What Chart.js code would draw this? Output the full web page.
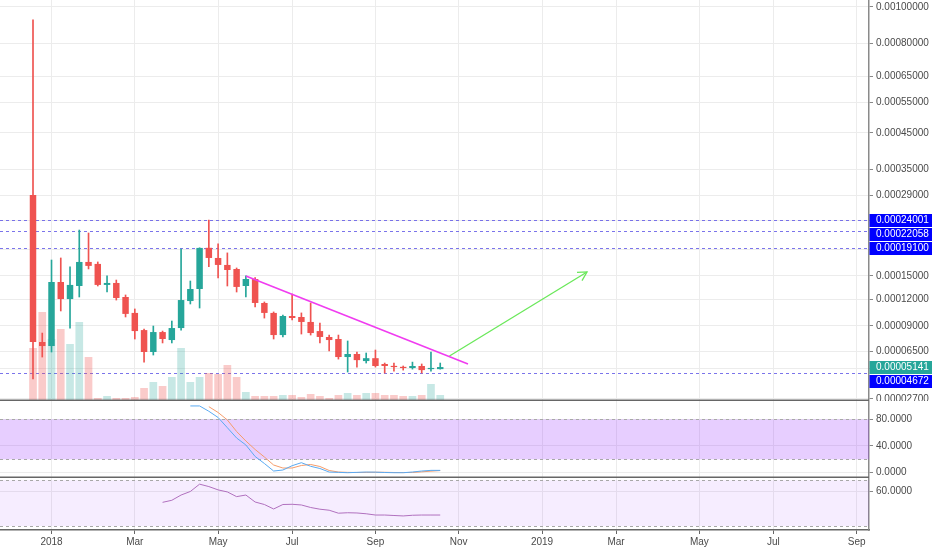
<!DOCTYPE html>
<html><head><meta charset="utf-8">
<script src="https://cdn.jsdelivr.net/npm/chart.js@4.4.1/dist/chart.umd.min.js"></script>
<style>
html,body{margin:0;padding:0;background:#fff;}
#wrap{position:relative;width:932px;height:550px;overflow:hidden;background:#fff;}
canvas{position:absolute;left:0;}
</style></head><body>
<div id="wrap">
<canvas id="main" width="932" height="401" style="top:0px"></canvas>
<canvas id="stoch" width="932" height="77" style="top:401px"></canvas>
<canvas id="rsi" width="932" height="72" style="top:478px"></canvas>
</div>
<script>
// ---------------- DATA ----------------
const WEEK_DATES = ['2017-12-18','2017-12-25','2018-01-01','2018-01-08','2018-01-15','2018-01-22','2018-01-29',
 '2018-02-05','2018-02-12','2018-02-19','2018-02-26','2018-03-05','2018-03-12','2018-03-19','2018-03-26',
 '2018-04-02','2018-04-09','2018-04-16','2018-04-23','2018-04-30','2018-05-07','2018-05-14','2018-05-21',
 '2018-05-28','2018-06-04','2018-06-11','2018-06-18','2018-06-25','2018-07-02','2018-07-09','2018-07-16',
 '2018-07-23','2018-07-30','2018-08-06','2018-08-13','2018-08-20','2018-08-27','2018-09-03','2018-09-10',
 '2018-09-17','2018-09-24','2018-10-01','2018-10-08','2018-10-15','2018-10-22'];

const OPEN  = [0.0002905,0.0000738,0.0000700,0.0001419,0.0001202,0.0001366,0.0001701,0.0001672,0.0001380,0.0001406,
               0.0001227,0.0001040,0.0000856,0.0000645,0.0000836,0.0000757,0.0000877,0.0001178,0.0001327,0.0001920,
               0.0001761,0.0001657,0.0001598,0.0001366,0.0001459,0.0001155,0.0001040,0.0000806,0.0001006,0.0000995,
               0.0000941,0.0000846,0.0000787,0.0000767,0.0000600,0.0000627,0.0000565,0.0000590,0.0000540,0.0000523,
               0.0000514,0.0000506,0.0000523,0.0000497,0.0000497];
const HIGH  = [0.0009240,0.0000826,0.0001730,0.0001761,0.0001628,0.0002220,0.0002168,0.0001701,0.0001501,0.0001445,
               0.0001252,0.0001085,0.0000866,0.0000898,0.0000846,0.0000951,0.0001901,0.0001432,0.0001920,0.0002400,
               0.0001983,0.0001839,0.0001613,0.0001501,0.0001480,0.0001167,0.0001051,0.0001017,0.0001264,0.0001040,
               0.0001155,0.0000930,0.0000806,0.0000806,0.0000748,0.0000645,0.0000636,0.0000663,0.0000548,0.0000548,
               0.0000523,0.0000556,0.0000540,0.0000645,0.0000548];
const LOW   = [0.0000418,0.0000600,0.0000645,0.0001062,0.0000877,0.0001227,0.0001599,0.0001366,0.0001289,0.0001190,
               0.0000995,0.0000767,0.0000556,0.0000618,0.0000729,0.0000729,0.0000856,0.0001143,0.0001096,0.0001630,
               0.0001473,0.0001366,0.0001289,0.0001227,0.0001108,0.0000983,0.0000767,0.0000787,0.0000962,0.0000816,
               0.0000806,0.0000729,0.0000654,0.0000582,0.0000473,0.0000514,0.0000548,0.0000514,0.0000465,0.0000481,
               0.0000489,0.0000497,0.0000465,0.0000481,0.0000497];
const CLOSE = [0.0000738,0.0000700,0.0001419,0.0001202,0.0001380,0.0001701,0.0001643,0.0001380,0.0001406,0.0001215,
               0.0001029,0.0000846,0.0000645,0.0000836,0.0000767,0.0000877,0.0001190,0.0001327,0.0001918,0.0001761,
               0.0001657,0.0001584,0.0001354,0.0001459,0.0001155,0.0001040,0.0000806,0.0001006,0.0000984,0.0000941,
               0.0000826,0.0000787,0.0000757,0.0000600,0.0000627,0.0000573,0.0000590,0.0000523,0.0000523,0.0000514,
               0.0000506,0.0000523,0.0000489,0.0000506,0.00005141];
const VOLUME = [53,89,62,72,57,79,44,3,5,3,3,4,13,19,15,24,53,19,24,28,27,36,24,9,5,5,5,6,6,4,7,5,3,6,8,6,8,8,6,6,5,5,6,17,6];

const STOCH_K = [null,null,null,null,null,null,null,null,null,null,null,null,null,null,null,null,null,
                 100,100,92,82.7,67.4,52,41.5,24.3,13.8,2.5,4,10.5,15,9.6,6.3,1,0.5,0,0.5,1,0.8,0.3,0,0,1,2.5,3.5,3.5];
const STOCH_D = [null,null,null,null,null,null,null,null,null,null,null,null,null,null,null,null,null,null,null,
                 98.9,90.2,79,61.7,47.5,34.8,23.5,11.5,7,7,10.8,12.3,9.3,3.3,1,0.5,0.3,0.5,0.7,0.6,0.3,0.2,0.4,1.3,2.3,3.2];
const RSI = [null,null,null,null,null,null,null,null,null,null,null,null,null,null,
             50.7,52.5,57.1,60.2,66.6,64.5,61.6,59.8,55.7,57.1,51,48.8,44.9,48.8,49,48.4,46.2,44.7,43.8,41.2,41.6,41.4,
             40.7,39.6,39.6,39.2,38.8,39.4,39.6,39.6,39.6];

const PRICE_TICKS = [0.001,0.0008,0.00065,0.00055,0.00045,0.00035,0.00029,0.00024,0.00019,0.00015,0.00012,0.00009,0.000065,0.00005,0.000027];
const HLINE_LEVELS = [0.00024001,0.00022058,0.00019100,0.00004672];
const TREND_LINE = [[23,0.0001501],[47,0.0000540]];   // [week index, price]
const ARROW_LINE = [[45,0.0000609],[59.86,0.0001556]];
const STOCH_TICKS = [0,40,80];
const STOCH_BAND = [20,80];
const RSI_TICKS = [60];
const RSI_BAND = [30,70];
const X_TICK_INDEX = [2,11,20,28,37,46,55,63,72,80,89];
const X_TICK_LABELS = ['2018','Mar','May','Jul','Sep','Nov','2019','Mar','May','Jul','Sep'];

// ---------------- STYLE / LAYOUT ----------------
const UP = '#26a69a', DOWN = '#ef5350';
const X_MIN = -3.566, X_MAX = 90.33;
const AXIS_W = 63;
const PRICE_SHIFT = 0.0001;
const GRID = '#ececec';

Chart.defaults.font.family = "'Liberation Sans', Arial, sans-serif";
Chart.defaults.font.size = 10;
Chart.defaults.color = '#4a4a4a';
Chart.defaults.animation = false;

class ShiftedLogScale extends Chart.LinearScale {
  static id = 'shiftedlog';
  static defaults = {};
  determineDataLimits() { this.min = this.options.min; this.max = this.options.max; }
  buildTicks() { return PRICE_TICKS.map(v => ({value: v})); }
  _tf(v) { return Math.log10(v + PRICE_SHIFT); }
  getPixelForValue(value) {
    const a = this._tf(this.min), b = this._tf(this.max);
    return this.getPixelForDecimal((this._tf(value) - a) / (b - a));
  }
  getValueForPixel(pixel) {
    const a = this._tf(this.min), b = this._tf(this.max);
    return Math.pow(10, a + this.getDecimalForPixel(pixel) * (b - a)) - PRICE_SHIFT;
  }
}
Chart.register(ShiftedLogScale);

const IDX = WEEK_DATES.map((d, i) => i);
const isUp = i => CLOSE[i] >= OPEN[i];

function xScaleCfg(showLabels) {
  return {
    type: 'linear', min: X_MIN, max: X_MAX, offset: false,
    grid: {offset: false, color: GRID, drawTicks: showLabels, tickLength: 4, tickColor: '#666'},
    border: {display: showLabels, color: '#666', width: 1.5},
    ticks: {display: showLabels, autoSkip: false, maxRotation: 0, padding: 2, color: '#4a4a4a',
      callback: v => { const k = X_TICK_INDEX.indexOf(v); return k >= 0 ? X_TICK_LABELS[k] : ''; }},
    afterBuildTicks: s => { s.ticks = X_TICK_INDEX.map(v => ({value: v})); },
    afterFit: s => { s.height = showLabels ? 20 : 0; s.paddingLeft = 0; s.paddingRight = 0; s.paddingTop = 0; s.paddingBottom = 0; }
  };
}
function yAxisCommon(extra) {
  return Object.assign({
    position: 'right',
    grid: {color: GRID, drawTicks: true, tickLength: 4, tickColor: '#888'},
    border: {display: true, color: '#8a8a8a', width: 1.5},
    afterFit: s => { s.width = AXIS_W; s.paddingTop = 0; s.paddingBottom = 0; }
  }, extra);
}
const bottomBorder = {
  id: 'bottomBorder',
  afterDraw(chart) {
    const {ctx, chartArea: a} = chart;
    ctx.save(); ctx.strokeStyle = '#666'; ctx.lineWidth = 1.5;
    ctx.beginPath(); ctx.moveTo(0, a.bottom - 0.75); ctx.lineTo(a.right, a.bottom - 0.75); ctx.stroke();
    ctx.restore();
  }
};
function bandPlugin(band, fill) {
  return {
    id: 'band',
    beforeDatasetsDraw(chart) {
      const {ctx, chartArea: a, scales: {y}} = chart;
      const y1 = y.getPixelForValue(band[1]), y2 = y.getPixelForValue(band[0]);
      ctx.save(); ctx.fillStyle = fill; ctx.fillRect(a.left, y1, a.right - a.left, y2 - y1);
      ctx.strokeStyle = '#a8a8a8'; ctx.lineWidth = 1; ctx.setLineDash([3, 3]);
      [y1, y2].forEach(yy => { const p = Math.round(yy) + 0.5; ctx.beginPath(); ctx.moveTo(a.left, p); ctx.lineTo(a.right, p); ctx.stroke(); });
      ctx.restore();
    }
  };
}

const mainDeco = {
  id: 'mainDeco',
  beforeDatasetsDraw(chart) {
    const {ctx, chartArea: a, scales: {y}} = chart;
    ctx.save(); ctx.strokeStyle = 'rgba(100,92,232,0.85)'; ctx.lineWidth = 1; ctx.setLineDash([3, 3]);
    HLINE_LEVELS.forEach(v => { const p = Math.round(y.getPixelForValue(v)) + 0.5; ctx.beginPath(); ctx.moveTo(a.left, p); ctx.lineTo(a.right, p); ctx.stroke(); });
    ctx.restore();
  },
  afterDatasetsDraw(chart) {
    const {ctx, scales: {x, y}} = chart;
    const x0 = x.getPixelForValue(ARROW_LINE[0][0]), y0 = y.getPixelForValue(ARROW_LINE[0][1]);
    const x1 = x.getPixelForValue(ARROW_LINE[1][0]), y1 = y.getPixelForValue(ARROW_LINE[1][1]);
    const ang = Math.atan2(y1 - y0, x1 - x0), L = 10, spread = 0.5;
    ctx.save(); ctx.strokeStyle = '#6ae85a'; ctx.lineWidth = 1.3;
    ctx.beginPath();
    ctx.moveTo(x1 - L * Math.cos(ang - spread), y1 - L * Math.sin(ang - spread));
    ctx.lineTo(x1, y1);
    ctx.lineTo(x1 - L * Math.cos(ang + spread), y1 - L * Math.sin(ang + spread));
    ctx.stroke(); ctx.restore();
  },
  afterDraw(chart) {
    const {ctx, chartArea: a, scales: {y}} = chart;
    const items = HLINE_LEVELS.map(v => ({v, bg: '#0000ff'}));
    items.push({v: CLOSE[CLOSE.length - 1], bg: UP});
    items.forEach(it => it.py = y.getPixelForValue(it.v));
    items.sort((p, q) => p.py - q.py);
    const H = 13;
    for (let i = 1; i < items.length; i++) {
      const minY = items[i - 1].py + H + 1;
      if (items[i].py < minY) items[i].py = minY;
    }
    ctx.save();
    ctx.font = "10px 'Liberation Sans', Arial, sans-serif";
    ctx.textBaseline = 'middle'; ctx.textAlign = 'left';
    items.forEach(it => {
      ctx.fillStyle = it.bg;
      ctx.fillRect(a.right + 0.5, Math.round(it.py - H / 2), chart.width - a.right, H);
      ctx.fillStyle = '#ffffff';
      ctx.fillText(it.v.toFixed(8), a.right + 7, Math.round(it.py) + 0.5);
    });
    ctx.restore();
  }
};

// ---------------- MAIN CHART ----------------
new Chart(document.getElementById('main'), {
  type: 'bar',
  data: {
    datasets: [
      {type: 'line', order: 0, data: TREND_LINE.map(p => ({x: p[0], y: p[1]})), borderColor: '#f03cf0', borderWidth: 1.6, pointRadius: 0, tension: 0},
      {type: 'line', order: 0, data: ARROW_LINE.map(p => ({x: p[0], y: p[1]})), borderColor: '#6ae85a', borderWidth: 1.3, pointRadius: 0, tension: 0},
      {order: 1, grouped: false, data: IDX.map(i => ({x: i, y: [Math.min(OPEN[i], CLOSE[i]), Math.max(OPEN[i], CLOSE[i])]})),
        backgroundColor: IDX.map(i => isUp(i) ? UP : DOWN), barPercentage: 0.7, categoryPercentage: 1, minBarLength: 1.2, borderWidth: 0},
      {order: 2, grouped: false, data: IDX.map(i => ({x: i, y: [LOW[i], HIGH[i]]})),
        backgroundColor: IDX.map(i => isUp(i) ? UP : DOWN), barThickness: 1, borderWidth: 0},
      {order: 3, grouped: false, yAxisID: 'yv', data: IDX.map(i => ({x: i, y: VOLUME[i]})),
        backgroundColor: IDX.map(i => isUp(i) ? 'rgba(38,166,154,0.26)' : 'rgba(239,83,80,0.30)'), barPercentage: 0.83, categoryPercentage: 1, borderWidth: 0}
    ]
  },
  options: {
    responsive: false, events: [],
    layout: {padding: 0},
    plugins: {legend: {display: false}, tooltip: {enabled: false}},
    scales: {
      x: xScaleCfg(false),
      y: yAxisCommon({type: 'shiftedlog', min: 0.0000256, max: 0.0010429,
        ticks: {autoSkip: false, padding: 3, color: '#4a4a4a', callback: v => Number(v).toFixed(8)}}),
      yv: {type: 'linear', display: false, min: 0, max: 401}
    }
  },
  plugins: [mainDeco, bottomBorder]
});

// ---------------- STOCH RSI ----------------
new Chart(document.getElementById('stoch'), {
  type: 'line',
  data: {
    datasets: [
      {data: IDX.map(i => ({x: i, y: STOCH_K[i]})), borderColor: '#5aaaf2', borderWidth: 1, pointRadius: 0, tension: 0},
      {data: IDX.map(i => ({x: i, y: STOCH_D[i]})), borderColor: '#f59c6a', borderWidth: 1, pointRadius: 0, tension: 0}
    ]
  },
  options: {
    responsive: false, events: [], layout: {padding: 0},
    plugins: {legend: {display: false}, tooltip: {enabled: false}},
    scales: {
      x: xScaleCfg(false),
      y: yAxisCommon({type: 'linear', min: -7.94, max: 107.4,
        afterBuildTicks: s => { s.ticks = STOCH_TICKS.map(v => ({value: v})); },
        ticks: {autoSkip: false, padding: 3, color: '#4a4a4a', callback: v => Number(v).toFixed(4)}})
    }
  },
  plugins: [bandPlugin(STOCH_BAND, 'rgba(153,51,255,0.24)'), bottomBorder]
});

// ---------------- RSI ----------------
new Chart(document.getElementById('rsi'), {
  type: 'line',
  data: {
    datasets: [
      {data: IDX.map(i => ({x: i, y: RSI[i]})), borderColor: '#b070be', borderWidth: 1, pointRadius: 0, tension: 0}
    ]
  },
  options: {
    responsive: false, events: [], layout: {padding: 0},
    plugins: {legend: {display: false}, tooltip: {enabled: false}},
    scales: {
      x: xScaleCfg(true),
      y: yAxisCommon({type: 'linear', min: 26.5, max: 72.0,
        afterBuildTicks: s => { s.ticks = RSI_TICKS.map(v => ({value: v})); },
        ticks: {autoSkip: false, padding: 3, color: '#4a4a4a', callback: v => Number(v).toFixed(4)}})
    }
  },
  plugins: [bandPlugin(RSI_BAND, 'rgba(153,51,255,0.09)')]
});
</script>
</body></html>
